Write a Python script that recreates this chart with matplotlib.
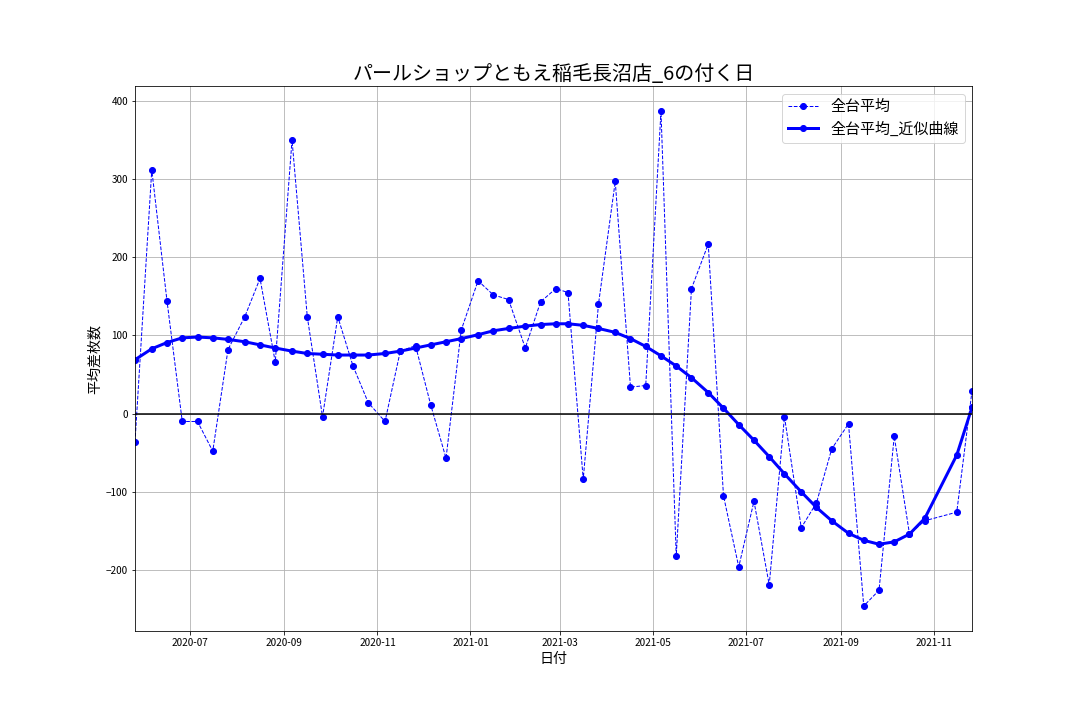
import matplotlib
matplotlib.use('Agg')
import matplotlib.pyplot as plt
import pandas as pd

plt.rcParams['font.family'] = ['Noto Sans CJK JP', 'DejaVu Sans']

# 6の付く日 (2021-11-06 はデータなし)
date_labels = [
    '2020-05-26', '2020-06-06', '2020-06-16', '2020-06-26', '2020-07-06', '2020-07-16', '2020-07-26',
    '2020-08-06', '2020-08-16', '2020-08-26', '2020-09-06', '2020-09-16', '2020-09-26',
    '2020-10-06', '2020-10-16', '2020-10-26', '2020-11-06', '2020-11-16', '2020-11-26',
    '2020-12-06', '2020-12-16', '2020-12-26', '2021-01-06', '2021-01-16', '2021-01-26',
    '2021-02-06', '2021-02-16', '2021-02-26', '2021-03-06', '2021-03-16', '2021-03-26',
    '2021-04-06', '2021-04-16', '2021-04-26', '2021-05-06', '2021-05-16', '2021-05-26',
    '2021-06-06', '2021-06-16', '2021-06-26', '2021-07-06', '2021-07-16', '2021-07-26',
    '2021-08-06', '2021-08-16', '2021-08-26', '2021-09-06', '2021-09-16', '2021-09-26',
    '2021-10-06', '2021-10-16', '2021-10-26', '2021-11-16', '2021-11-26',
]

# 全台平均
avg_diff = [
    -36, 312, 144, -10, -10, -48, 82,
    124, 173, 66, 350, 124, -4,
    124, 61, 14, -10, 80, 87,
    11, -57, 107, 170, 152, 146,
    84, 143, 160, 155, -84, 140,
    297, 34, 36, 387, -182, 160,
    217, -105, -196, -112, -219, -4,
    -146, -114, -45, -13, -246, -226,
    -29, -154, -137, -126, 29,
]

# 全台平均_近似曲線
avg_fit = [
    69, 83, 91, 97, 98, 97, 95,
    92, 88, 84, 80, 77, 76,
    75, 75, 75, 77, 80, 84,
    88, 92, 96, 101, 106, 109,
    112, 114, 115, 115, 113, 109,
    104, 96, 86, 74, 61, 46,
    27, 7, -14, -34, -55, -77,
    -100, -120, -137, -153, -162, -167,
    -164, -154, -134, -53, 8,
]

dates = pd.to_datetime(date_labels)

fig = plt.figure(figsize=(15, 10), dpi=72)
fig.subplots_adjust(left=0.125, right=0.9, top=0.88, bottom=0.124)
ax = fig.add_subplot(111)

ax.plot(dates, avg_diff, 'o--', color='blue', linewidth=1, markersize=6, label='全台平均')
ax.plot(dates, avg_fit, 'o-', color='blue', linewidth=3, markersize=6, label='全台平均_近似曲線')
ax.axhline(0, color='black', linewidth=1.5)

ax.set_xlim(dates[0], dates[-1])
ax.set_title('パールショップともえ稲毛長沼店_6の付く日', fontsize=20)
ax.set_xlabel('日付', fontsize=14)
ax.set_ylabel('平均差枚数', fontsize=14)
ax.grid(True)
ax.legend(loc='upper right', fontsize=15)

fig.savefig('out.png', dpi=72)
